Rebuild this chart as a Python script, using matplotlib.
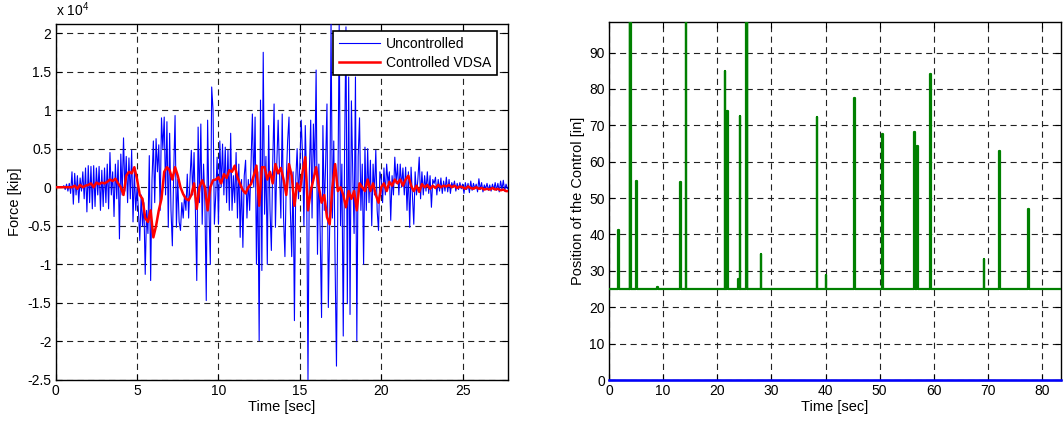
import numpy as np
import matplotlib
matplotlib.use("Agg")
import matplotlib.pyplot as plt
from matplotlib.ticker import FormatStrFormatter

plt.rcParams['font.family'] = ['Liberation Sans', 'DejaVu Sans']
plt.rcParams['axes.unicode_minus'] = False
plt.rcParams['mathtext.fontset'] = 'custom'
plt.rcParams['mathtext.rm'] = 'Liberation Sans'
plt.rcParams['mathtext.it'] = 'Liberation Sans'

# ---------------- data: left panel (force, units of 1e4 kip) ----------------
dt_unc = 1.0 / 12.0
force_uncontrolled = [
    0, 0, 0, 0, 0, 0, 0.02, -0.03, 0.04, -0.05, 0.05, -0.08,
    0.2, -0.22, 0.18, -0.1, 0.15, -0.2, 0.12, -0.05, 0.2, -0.15, 0.25, -0.32,
    0.28, -0.2, 0.27, -0.28, 0.28, -0.25, 0.25, -0.1, 0.27, -0.3, 0.22, -0.25,
    0.25, -0.2, 0.3, -0.28, 0.45, -0.1, 0.2, -0.38, 0.3, -0.15, 0.35, -0.67,
    0.43, -0.1, 0.64, -0.05, 0.4, -0.2, 0.38, -0.15, 0.48, -0.45, 0.2, -0.3,
    0.0, -0.3, -0.69, -0.1, -0.5, -0.2, -1.13, -0.3, -0.6, 0.41, -1.21, 0.1,
    0.6, -0.2, 0.63, 0.2, 0.55, -0.3, 0.9, 0.5, 0.91, -0.1, 0.85, -0.52,
    0.7, -0.3, -0.76, 0.2, 0.93, -0.52, 0.1, -0.45, -0.56, -0.2, -0.4, -0.1,
    -0.3, 0.17, -0.4, 0.1, 0.48, -0.1, 0.45, -0.3, -1.21, 0.78, -0.2, 0.82,
    -0.48, 0.3, -0.2, -1.47, 0.87, -0.3, -1.0, 1.3, 1.0, -0.48, -0.1, 0.39,
    -0.48, 0.6, 0.0, 0.56, -0.1, 0.52, -0.2, 0.48, -0.3, 0.7, -0.3, 0.15,
    -0.2, 0.45, -0.4, 0.3, -0.65, 0.1, -0.78, 0.15, 0.35, -0.4, 0.1, -0.3,
    0.3, 0.95, 0.0, 0.91, -1.0, 0.2, -1.99, 1.13, -1.08, 1.75, -0.35, 0.4,
    -1.0, 0.8, -0.3, -0.82, 0.3, 1.08, -0.52, 0.3, 0.87, 0.2, -0.4, 0.95,
    -0.4, -0.9, 0.1, 0.6, 0.91, -0.3, -0.9, 0.2, -1.73, 0.1, 0.5, -0.15,
    0.3, 0.87, 0.4, -0.5, 0.8, 0.1, -2.5, 0.2, 0.87, -0.4, 0.82, 0.2,
    1.52, -0.87, 0.3, -0.6, -1.69, 0.8, -0.3, 0.3, 1.08, -1.56, -0.5, 2.15,
    -0.4, 0.6, -1.0, -2.32, -0.2, 2.1, -0.5, 0.3, -1.93, 0.5, 2.08, -1.51,
    1.43, -1.65, 1.12, 0.2, -0.6, 1.43, -1.99, 0.4, 0.9, -0.3, 0.3, -1.0,
    0.52, -0.3, 0.5, -0.2, 0.35, -0.5, 0.3, -0.1, 0.48, -0.3, -0.56, 0.2,
    0.1, -0.2, 0.25, -0.1, 0.3, 0.05, 0.2, -0.43, 0.15, -0.1, 0.39, 0.05,
    0.3, -0.1, 0.3, 0.0, 0.25, -0.1, 0.26, -0.3, 0.2, -0.52, 0.26, -0.1,
    -0.48, 0.2, -0.1, 0.1, 0.39, -0.15, 0.2, -0.1, 0.15, -0.05, 0.2, -0.08,
    0.15, -0.26, 0.1, 0.05, 0.13, -0.1, 0.1, -0.05, 0.12, -0.08, 0.08, -0.05,
    0.13, -0.06, 0.1, -0.08, 0.06, 0.0, 0.08, -0.05, 0.05, -0.03, 0.06, -0.02,
    0.04, -0.08, 0.06, -0.03, 0.05, -0.07, 0.08, -0.04, 0.05, -0.02, 0.04, -0.06,
    0.11, -0.03, 0.06, -0.06, 0.03, -0.02, 0.05, -0.04, 0.03, -0.05, 0.04, -0.03,
    0.06, -0.04, 0.05, -0.06, 0.08, -0.03, 0.09, -0.05, 0.04, -0.02, 0.0, -0.01,
]

dt_ctl = 1.0 / 6.0
force_controlled = [
    0, 0, 0, 0, 0, 0,
    0.0, 0.02, -0.02, 0.03, 0.0, 0.02,
    0.03, 0.05, 0.0, 0.06, 0.04, 0.06,
    0.05, 0.07, 0.1, 0.08, 0.11, 0.05,
    0.0, -0.1, 0.15, 0.2, 0.18, 0.26,
    0.1, -0.1, -0.15, -0.4, -0.45, -0.3,
    -0.65, -0.5, -0.3, -0.15, 0.2, 0.26,
    0.22, 0.1, 0.26, 0.15, 0.0, -0.09,
    -0.15, -0.17, -0.1, 0.05, -0.28, 0.0,
    0.09, 0.0, -0.3, 0.0, 0.09, 0.1,
    0.13, 0.05, 0.17, 0.12, 0.22, 0.2,
    0.28, 0.13, 0.04, -0.04, -0.08, 0.0,
    0.04, 0.15, 0.28, -0.24, 0.26, 0.26,
    0.1, 0.2, 0.05, 0.3, 0.18, 0.25,
    0.1, -0.1, 0.3, 0.15, -0.24, 0.05,
    -0.05, 0.2, 0.39, -0.3, -0.05, 0.1,
    0.26, 0.0, -0.2, -0.1, -0.39, -0.48,
    0.0, 0.3, -0.05, 0.0, -0.1, -0.26,
    -0.05, -0.15, -0.05, -0.3, 0.05, 0.0,
    -0.05, 0.1, -0.05, 0.05, -0.1, -0.2,
    0.0, 0.05, -0.05, 0.07, 0.02, 0.1,
    0.05, 0.1, 0.02, 0.1, 0.15, 0.02,
    -0.05, 0.02, -0.06, 0.04, 0.0, 0.03,
    -0.02, 0.02, -0.01, 0.03, 0.0, 0.02,
    0.01, 0.03, 0.0, 0.02, -0.01, 0.01,
    0.0, -0.02, 0.01, -0.01, -0.02, 0.0,
    -0.02, -0.01, -0.03, -0.02, -0.03, -0.01,
    -0.03, -0.02, -0.04, -0.03, -0.05, -0.05,
]

# ---------------- data: right panel (control position, in) ----------------
pos_baseline = 25.0
pos_end_time = 83.5
spike_times = [1.8, 3.85, 3.95, 5.1, 8.9, 13.2, 14.2, 21.45, 21.9, 23.9, 24.2,
               25.4, 25.5, 28.1, 38.4, 40.1, 45.4, 50.5, 56.4, 57.0, 59.4,
               69.3, 72.1, 77.5]
spike_heights = [41.2, 100, 100, 54.8, 25.5, 54.4, 100, 85.0, 73.9, 27.8, 72.5,
                 100, 100, 34.7, 72.4, 28.9, 77.5, 67.6, 68.1, 64.3, 84.2,
                 33.3, 63.0, 47.0]
uncontrolled_position = 0.0

# ---------------- figure ----------------
fig = plt.figure(figsize=(10.64, 4.22), dpi=100)
ax1 = fig.add_axes([55.7 / 1064, 1 - 380 / 422, 452 / 1064, 356 / 422])
ax2 = fig.add_axes([609 / 1064, 1 - 380 / 422, 452 / 1064, 358 / 422])

grid_kw = dict(color='#222222', linestyle=(0, (5.5, 4.0)), linewidth=0.8)

t_unc = np.arange(len(force_uncontrolled)) * dt_unc
t_ctl = np.arange(len(force_controlled)) * dt_ctl
ax1.plot(t_unc, force_uncontrolled, color='#0000ff', lw=0.8, label='Uncontrolled', zorder=3)
ax1.plot(t_ctl, force_controlled, color='#ff0000', lw=1.8, label='Controlled VDSA', zorder=4)
ax1.set_xlim(0, 27.77)
ax1.set_ylim(-2.5, 2.117)
ax1.set_xticks([0, 5, 10, 15, 20, 25])
ax1.set_yticks([-2.5, -2, -1.5, -1, -0.5, 0, 0.5, 1, 1.5, 2])
ax1.yaxis.set_major_formatter(FormatStrFormatter('%g'))
ax1.set_xlabel('Time [sec]', fontsize=10.5, labelpad=1)
ax1.set_ylabel('Force [kip]', fontsize=10.5, labelpad=4)
ax1.text(0.0, 1.015, r'x 10$^{4}$', transform=ax1.transAxes, fontsize=10, ha='left', va='bottom')
leg = ax1.legend(loc='upper right', bbox_to_anchor=(0.976, 0.979), fontsize=10,
                 fancybox=False, framealpha=1, edgecolor='black', borderaxespad=0,
                 handlelength=3.0, handletextpad=0.4, borderpad=0.4, labelspacing=0.35)
leg.get_frame().set_linewidth(1.2)
leg.set_zorder(10)

# right panel
xs, ys = [0.0], [pos_baseline]
half_w = 0.06
for t, h in zip(spike_times, spike_heights):
    xs += [t - half_w, t - half_w, t + half_w, t + half_w]
    ys += [pos_baseline, h, h, pos_baseline]
xs.append(pos_end_time)
ys.append(pos_baseline)
ax2.plot(xs, ys, color='#008000', lw=1.6, zorder=3)
ax2.plot([0, pos_end_time], [uncontrolled_position, uncontrolled_position],
         color='#0000ff', lw=1.8, zorder=5, clip_on=False)
ax2.set_xlim(0, 83.5)
ax2.set_ylim(0, 98.4)
ax2.set_xticks(np.arange(0, 81, 10))
ax2.set_yticks(np.arange(0, 91, 10))
ax2.set_xlabel('Time [sec]', fontsize=10.5, labelpad=1)
ax2.set_ylabel('Position of the Control [in]', fontsize=10.5, labelpad=3)

for ax in (ax1, ax2):
    ax.grid(True, **grid_kw)
    ax.set_axisbelow(True)
    ax.tick_params(direction='in', length=4, width=0.8, top=True, right=True,
                   labelsize=10, pad=3)
    for s in ax.spines.values():
        s.set_linewidth(1.0)
        s.set_color('black')

fig.savefig('out.png', dpi=100)
